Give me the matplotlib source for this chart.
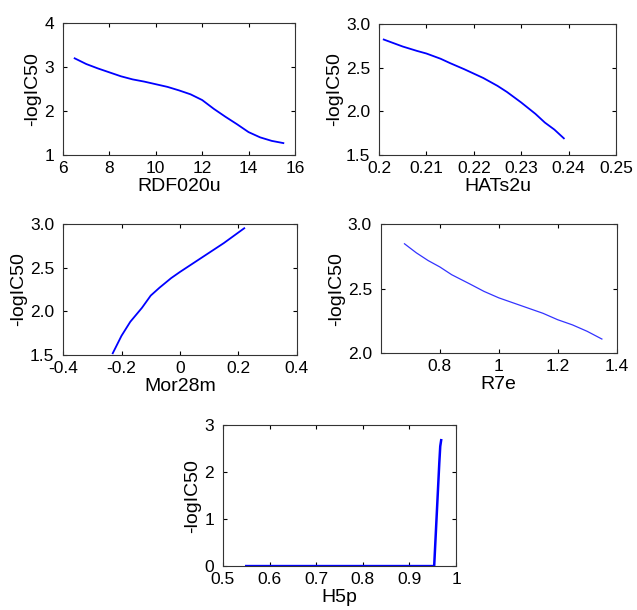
import matplotlib
matplotlib.use("Agg")
import matplotlib.pyplot as plt

plt.rcParams['font.family'] = ['Liberation Sans', 'DejaVu Sans']

# RDF020u
rdf_x = [6.5, 7, 7.5, 8, 8.5, 9, 9.5, 10, 10.5, 11, 11.5, 12, 12.5, 13, 13.5, 14, 14.5, 15, 15.5]
rdf_y = [3.2, 3.07, 2.97, 2.88, 2.79, 2.72, 2.67, 2.61, 2.55, 2.47, 2.38, 2.25, 2.05, 1.87, 1.7, 1.52, 1.4, 1.32, 1.27]

# HATs2u
hats_x = [0.201, 0.203, 0.205, 0.208, 0.21, 0.213, 0.215, 0.218, 0.22, 0.222, 0.225, 0.227, 0.23, 0.233, 0.235, 0.237, 0.239]
hats_y = [2.82, 2.78, 2.74, 2.69, 2.66, 2.60, 2.55, 2.48, 2.43, 2.38, 2.29, 2.22, 2.10, 1.97, 1.87, 1.79, 1.69]

# Mor28m
mor_x = [-0.23, -0.2, -0.17, -0.13, -0.1, -0.07, -0.03, 0, 0.05, 0.1, 0.15, 0.22]
mor_y = [1.52, 1.72, 1.88, 2.04, 2.18, 2.27, 2.38, 2.45, 2.56, 2.67, 2.78, 2.95]

# R7e
r7e_x = [0.68, 0.72, 0.76, 0.8, 0.84, 0.9, 0.95, 1.0, 1.05, 1.1, 1.15, 1.2, 1.25, 1.3, 1.35]
r7e_y = [2.85, 2.78, 2.72, 2.67, 2.61, 2.54, 2.48, 2.43, 2.39, 2.35, 2.31, 2.26, 2.22, 2.17, 2.11]

# H5p
h5p_x = [0.55, 0.953, 0.955, 0.958, 0.961, 0.964, 0.966, 0.968]
h5p_y = [0, 0, 0.4, 1.0, 1.6, 2.2, 2.55, 2.68]

fig = plt.figure(figsize=(6.37, 6.10), dpi=100)

panels = [
    # rect, x, y, xlabel, xlim, xticks, xticklabels, ylim, yticks, yticklabels, color, lw
    ([0.099, 0.746, 0.364, 0.216], rdf_x, rdf_y, 'RDF020u', (6, 16), [6, 8, 10, 12, 14, 16],
     ['6', '8', '10', '12', '14', '16'], (1, 4), [1, 2, 3, 4], ['1', '2', '3', '4'], '#0000ff', 1.3),
    ([0.595, 0.746, 0.372, 0.215], hats_x, hats_y, 'HATs2u', (0.2, 0.25), [0.2, 0.21, 0.22, 0.23, 0.24, 0.25],
     ['0.2', '0.21', '0.22', '0.23', '0.24', '0.25'], (1.5, 3.0), [1.5, 2.0, 2.5, 3.0],
     ['1.5', '2.0', '2.5', '3.0'], '#0000ff', 1.3),
    ([0.099, 0.418, 0.367, 0.215], mor_x, mor_y, 'Mor28m', (-0.4, 0.4), [-0.4, -0.2, 0, 0.2, 0.4],
     ['-0.4', '-0.2', '0', '0.2', '0.4'], (1.5, 3.0), [1.5, 2.0, 2.5, 3.0],
     ['1.5', '2.0', '2.5', '3.0'], '#0000ff', 1.3),
    ([0.598, 0.421, 0.370, 0.211], r7e_x, r7e_y, 'R7e', (0.6, 1.4), [0.8, 1.0, 1.2, 1.4],
     ['0.8', '1', '1.2', '1.4'], (2.0, 3.0), [2.0, 2.5, 3.0], ['2.0', '2.5', '3.0'], '#3333ff', 0.9),
    ([0.350, 0.072, 0.366, 0.231], h5p_x, h5p_y, 'H5p', (0.5, 1.0), [0.5, 0.6, 0.7, 0.8, 0.9, 1.0],
     ['0.5', '0.6', '0.7', '0.8', '0.9', '1'], (0, 3), [0, 1, 2, 3], ['0', '1', '2', '3'], '#0000ff', 1.8),
]

for rect, xs, ys, xlabel, xlim, xt, xtl, ylim, yt, ytl, col, lw in panels:
    ax = fig.add_axes(rect)
    ax.plot(xs, ys, color=col, linewidth=lw)
    ax.set_xlim(*xlim)
    ax.set_ylim(*ylim)
    ax.set_xticks(xt)
    ax.set_xticklabels(xtl)
    ax.set_yticks(yt)
    ax.set_yticklabels(ytl)
    ax.tick_params(direction='in', top=True, right=True, labelsize=12.5, length=3)
    ax.tick_params(axis='x', pad=4.5)
    ax.tick_params(axis='y', pad=6.5)
    ax.set_xlabel(xlabel, fontsize=14, labelpad=1)
    ax.set_ylabel('-logIC50', fontsize=14, labelpad=2)
    for s in ax.spines.values():
        s.set_color('#333333')
        s.set_linewidth(0.8)

fig.savefig('out.png', dpi=100)
